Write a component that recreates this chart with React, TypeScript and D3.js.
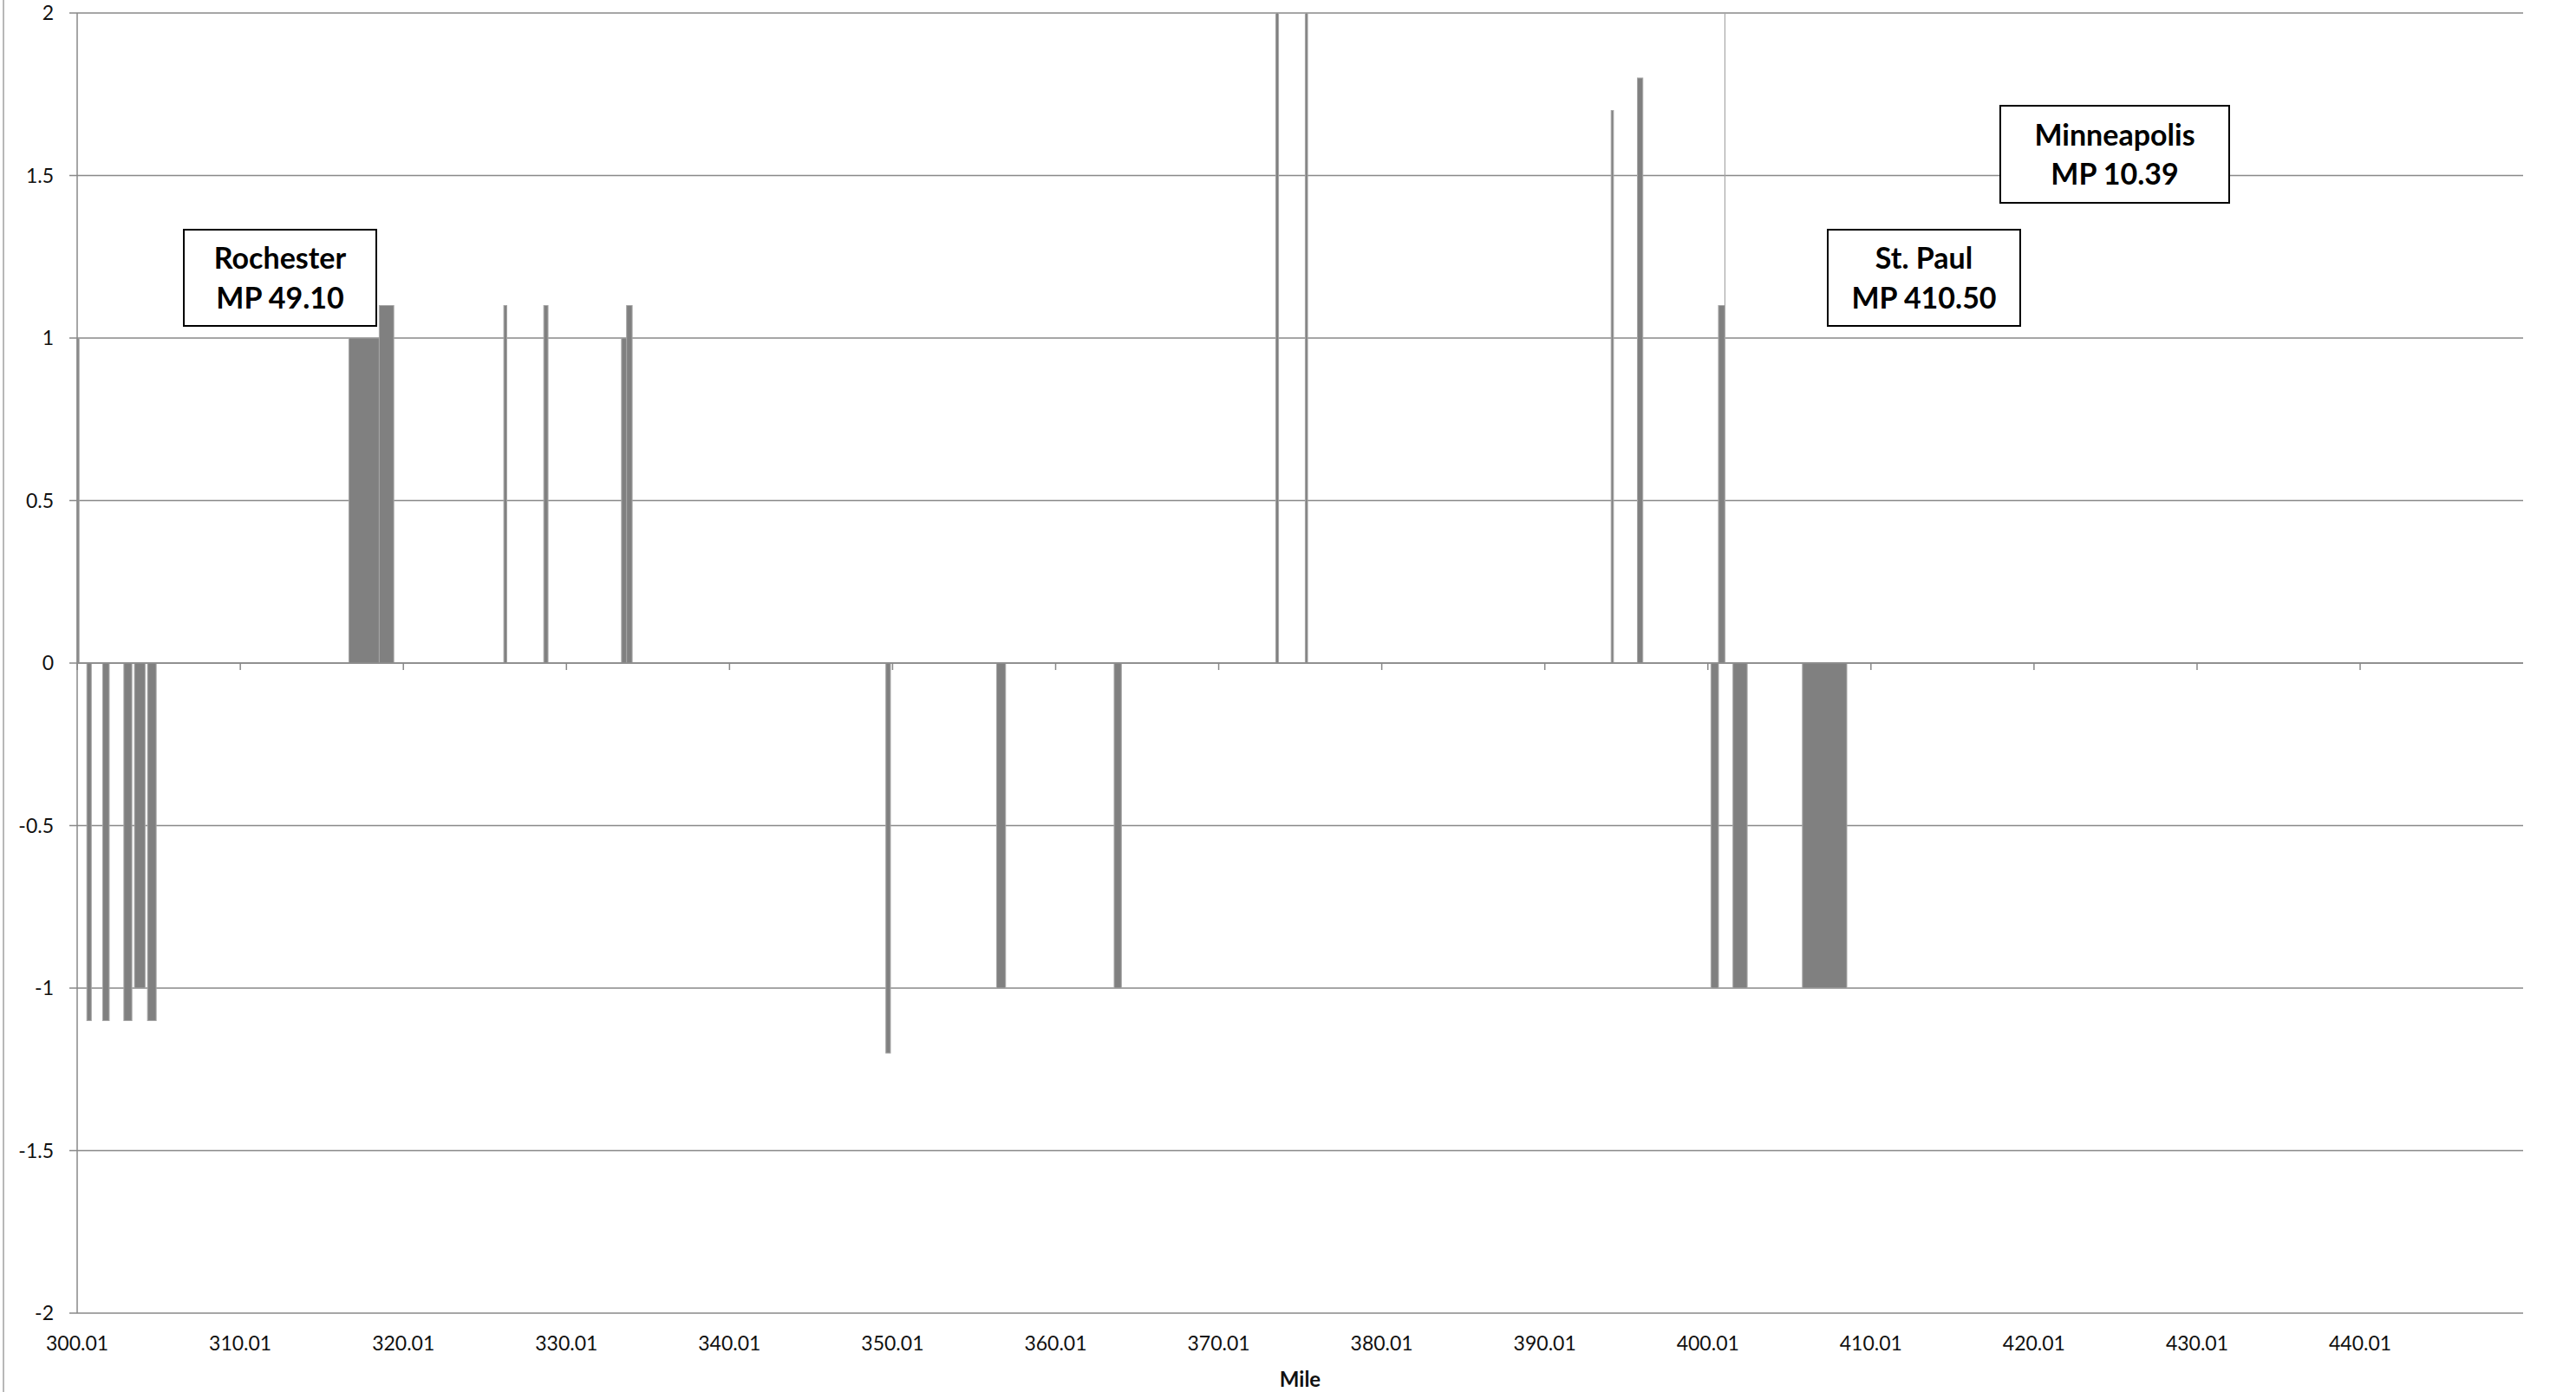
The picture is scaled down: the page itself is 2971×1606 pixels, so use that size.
import React from "react";
import * as d3 from "d3";

// ---- Data (miles, values) ----
const segStart = [300.0, 300.6, 301.57, 302.87, 303.52, 304.32, 316.67, 318.53, 326.17, 328.62, 333.39, 333.7, 349.6, 356.39, 363.6, 373.51, 375.32, 394.08, 395.69, 400.2, 400.66, 401.05, 401.55, 405.81];
const segEnd = [300.12, 300.87, 301.97, 303.36, 304.17, 304.85, 318.53, 319.42, 326.35, 328.88, 333.7, 334.04, 349.88, 356.94, 364.04, 373.68, 375.46, 394.22, 396.02, 400.66, 401.05, 401.06, 402.42, 408.53];
const segValue = [1.0, -1.1, -1.1, -1.1, -1.0, -1.1, 1.0, 1.1, 1.1, 1.1, 1.0, 1.1, -1.2, -1.0, -1.0, 2.0, 2.0, 1.7, 1.8, -1.0, 1.1, 2.0, -1.0, -1.0];

const xTickLabels = ["300.01", "310.01", "320.01", "330.01", "340.01", "350.01", "360.01", "370.01", "380.01", "390.01", "400.01", "410.01", "420.01", "430.01", "440.01"];
const yTickValues = [2, 1.5, 1, 0.5, 0, -0.5, -1, -1.5, -2];
const yTickLabels = ["2", "1.5", "1", "0.5", "0", "-0.5", "-1", "-1.5", "-2"];

const annotationTitles = ["Rochester", "St. Paul", "Minneapolis"];
const annotationSubtitles = ["MP 49.10", "MP 410.50", "MP 10.39"];
// layout of the annotation boxes (pixels)
const annotationBoxes = [
  { x: 212, y: 265, w: 222, h: 111, b1: 310, b2: 356 },
  { x: 2108, y: 265, w: 222, h: 111, b1: 310, b2: 356 },
  { x: 2307, y: 122, w: 264, h: 112, b1: 168, b2: 213 },
];

const W = 2971;
const H = 1606;
const L = 89;
const R = 2910;
const T = 15;
const B = 1515;

const GRID = "#898989";
const FONT = "Lato, 'Open Sans', sans-serif";

export default function App() {
  const x = d3.scaleLinear().domain([300.005, 450.005]).range([L, R]);
  const y = d3.scaleLinear().domain([-2, 2]).range([B, T]);
  const y0 = y(0);

  const bars = segStart.map((s, i) => {
    const v = Math.max(-2, Math.min(2, segValue[i]));
    const x0 = x(s);
    const x1 = x(segEnd[i]);
    const yTop = y(Math.max(0, v));
    const yBot = y(Math.min(0, v));
    return { x: x0, w: Math.max(0.15, x1 - x0), y: yTop, h: yBot - yTop };
  });

  return (
    <div style={{ position: "absolute", left: 0, top: 0 }}>
      <svg width={W} height={H} style={{ display: "block", background: "#fff" }}>
        <rect x={0} y={0} width={W} height={H} fill="#ffffff" />
        {/* chart border on left */}
        <line x1={4} x2={4} y1={0} y2={H} stroke="#a0a0a0" strokeWidth={1.5} />

        {/* horizontal gridlines + y ticks */}
        {yTickValues.map((v, i) => (
          <g key={"g" + i}>
            <line x1={80} x2={R} y1={y(v)} y2={y(v)} stroke={GRID} strokeWidth={1.5} />
            <text
              x={62}
              y={y(v) + 8}
              textAnchor="end"
              fontFamily={FONT}
              fontSize={23}
              fill="#111"
            >
              {yTickLabels[i]}
            </text>
          </g>
        ))}

        {/* bars */}
        {bars.map((b, i) => (
          <rect
            key={"b" + i}
            x={b.x}
            y={b.y}
            width={b.w}
            height={b.h}
            fill="#808080"
            stroke="#a6a6a6"
            strokeWidth={1}
          />
        ))}

        {/* y axis */}
        <line x1={L} x2={L} y1={T} y2={B} stroke={GRID} strokeWidth={1.5} />
        {/* x axis at 0 */}
        <line x1={L} x2={R} y1={y0} y2={y0} stroke={GRID} strokeWidth={1.5} />
        {xTickLabels.map((lab, i) => {
          const xv = x(parseFloat(lab));
          return (
            <g key={"x" + i}>
              <line x1={xv} x2={xv} y1={y0} y2={y0 + 8} stroke={GRID} strokeWidth={1.5} />
              <text
                x={xv}
                y={1558}
                textAnchor="middle"
                fontFamily={FONT}
                fontSize={23}
                fill="#111"
              >
                {lab}
              </text>
            </g>
          );
        })}
        <text
          x={(L + R) / 2}
          y={1600}
          textAnchor="middle"
          fontFamily={FONT}
          fontWeight="bold"
          fontSize={24}
          fill="#111"
        >
          Mile
        </text>

        {/* annotations */}
        {annotationBoxes.map((bx, i) => (
          <g key={"a" + i}>
            <rect x={bx.x} y={bx.y} width={bx.w} height={bx.h} fill="#fff" stroke="#000" strokeWidth={2} />
            <text
              x={bx.x + bx.w / 2}
              y={bx.b1}
              textAnchor="middle"
              fontFamily={FONT}
              fontWeight="bold"
              fontSize={34}
              fill="#000"
            >
              {annotationTitles[i]}
            </text>
            <text
              x={bx.x + bx.w / 2}
              y={bx.b2}
              textAnchor="middle"
              fontFamily={FONT}
              fontWeight="bold"
              fontSize={34}
              fill="#000"
            >
              {annotationSubtitles[i]}
            </text>
          </g>
        ))}
      </svg>
    </div>
  );
}
